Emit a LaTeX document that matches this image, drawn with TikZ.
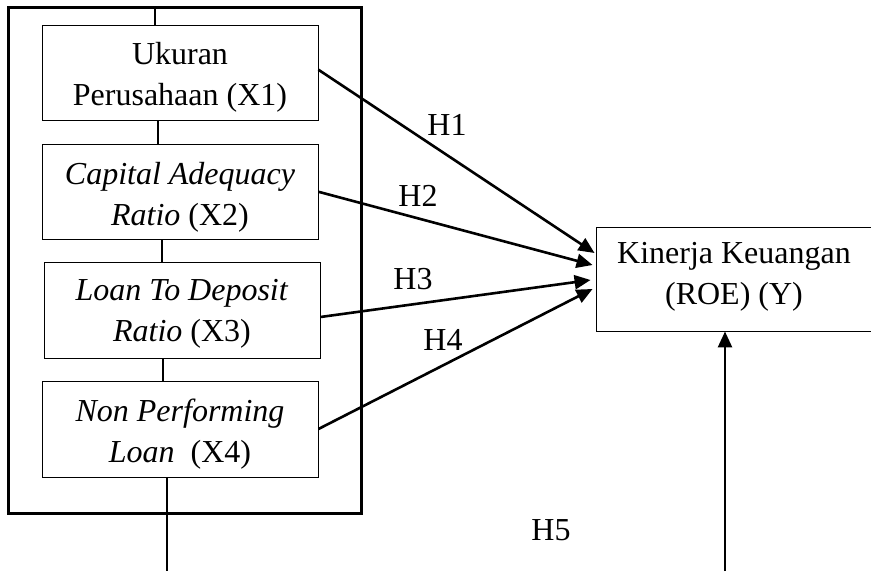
\documentclass[tikz,border=0pt]{standalone}
\usepackage{fontspec}
\setmainfont{Liberation Serif}
\usetikzlibrary{arrows.meta}
\begin{document}
\begin{tikzpicture}[x=1pt,y=-1pt,
box/.style={draw,line width=0.9pt,minimum width=276pt,inner sep=0pt},
isi/.style={align=center,anchor=north,inner sep=0pt}]
\tikzstyle{every node}=[font=\fontsize{32}{41}\selectfont]% huruf seperti Times
\tikzstyle{panah}=[line width=2.6pt,-{Triangle[length=16pt,width=14pt]}]% panah hipotesis
\tikzstyle{garis}=[line width=1.6pt]% garis penghubung kotak
\useasboundingbox (0,0) rectangle (871,571);
\draw[line width=3pt] (8,7) rectangle (361,513);% kotak luar variabel X
\node[box,minimum height=95.5pt] (x1) at (180,72.75) {};
\node[box,minimum height=94.5pt] (x2) at (180,191.75) {};
\node[box,minimum height=96pt] (x3) at (182,310) {};
\node[box,minimum height=96pt] (x4) at (180,429) {};
\node[box,minimum width=280pt,minimum height=104pt] (y) at (736,279) {};
\node[isi] (x1t) at ([yshift=-18pt]x1.north) {Ukuran\\Perusahaan (X1)};
\node[isi] (x2t) at ([yshift=-18pt]x2.north) {\textit{Capital Adequacy}\\\textit{Ratio} (X2)};
\node[isi] (x3t) at ([yshift=-18pt]x3.north) {\textit{Loan To Deposit}\\\textit{Ratio} (X3)};
\node[isi] (x4t) at ([yshift=-18pt]x4.north) {\textit{Non Performing}\\\textit{Loan}\ \ (X4)};
\node[isi] (yt) at ([xshift=-2pt,yshift=-16pt]y.north) {Kinerja Keuangan\\(ROE) (Y)};
\coordinate (atas) at (155,7);% ujung garis atas
\coordinate (bawah) at (167,571);% ujung garis bawah
\coordinate (h5) at (725,571);% pangkal panah H5
\draw[garis] (atas) -- (atas |- x1.north);
\draw[garis] ([xshift=-22pt]x1.south) -- ([xshift=-22pt]x1.south |- x2.north);
\draw[garis] ([xshift=-18pt]x2.south) -- ([xshift=-18pt]x2.south |- x3.north);
\draw[garis] ([xshift=-19pt]x3.south) -- ([xshift=-19pt]x3.south |- x4.north);
\draw[garis] (bawah |- x4.south) -- (bawah);
\draw[panah] ([yshift=3pt]x1.east) -- ([xshift=-1pt,yshift=26pt]y.west);
\draw[panah] (x2.east) -- ([xshift=-3pt,yshift=14pt]y.west);
\draw[panah] ([yshift=-7pt]x3.east) -- ([xshift=-5pt,yshift=-1pt]y.west);
\draw[panah] (x4.east) -- ([xshift=-3pt,yshift=-10pt]y.west);
\draw[panah] (h5) -- (h5 |- y.south);
\node (l1) at (447,125) {H1};
\node (l2) at (418,196) {H2};
\node (l3) at (413,279) {H3};
\node (l4) at (443,340) {H4};
\node (l5) at (551,530) {H5};
\end{tikzpicture}
\end{document}
